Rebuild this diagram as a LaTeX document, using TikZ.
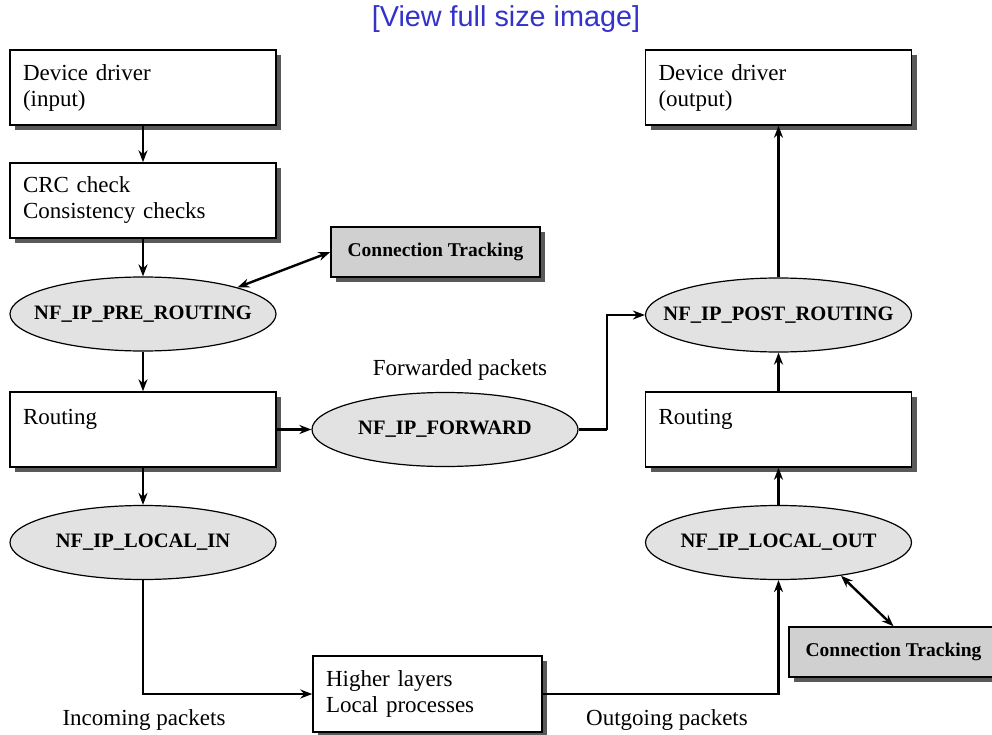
\documentclass[tikz,border=0pt]{standalone}
\usepackage{fontspec}
\setmainfont{Liberation Serif}
\newfontfamily\headfont{Liberation Sans}
\usetikzlibrary{shapes.geometric,shadows,arrows.meta}

\definecolor{linkblue}{RGB}{51,51,204}
\definecolor{hookgray}{RGB}{226,226,226}
\definecolor{trackgray}{RGB}{208,208,208}

\tikzset{
  stage/.style={draw, line width=1.5pt, fill=white, minimum width=266pt, minimum height=75pt,
    text width=240pt, align=left, font=\fontsize{23}{26}\selectfont,
    drop shadow={shadow xshift=5pt, shadow yshift=-5pt, fill=black!65, opacity=1}},
  hook/.style={draw, ellipse, line width=1.2pt, fill=hookgray, minimum width=266pt, minimum height=74pt,
    inner xsep=-40pt, inner ysep=0pt, font=\fontsize{20.5}{22}\selectfont\bfseries},
  tracker/.style={draw, line width=1.5pt, fill=trackgray, minimum width=209pt, minimum height=50pt,
    font=\fontsize{19.5}{22}\selectfont\bfseries,
    drop shadow={shadow xshift=5pt, shadow yshift=-5pt, fill=black!65, opacity=1}},
  caption/.style={font=\fontsize{23}{26}\selectfont},
  flow/.style={line width=2.4pt, -{Stealth[length=12pt,width=9pt]}},
  both/.style={line width=2.4pt, {Stealth[length=12pt,width=9pt]}-{Stealth[length=12pt,width=9pt]}}
}

\begin{document}
\begin{tikzpicture}[x=1pt,y=-1pt]
    \useasboundingbox (0,0) rectangle (992,735);
    \fill[white] (0,0) rectangle (992,735);

    \node[font=\headfont\fontsize{28.8}{30}\selectfont, text=linkblue] (view) at (506,19) {[View full size image]};

    % incoming side
    \node[stage] (drvin) at (143,87.5) {Device driver\\(input)};
    \node[stage] (crc) at (143,200.5) {CRC check\\Consistency checks};
    \node[hook] (pre) at (143,314) {NF\_IP\_PRE\_ROUTING};
    \node[stage] (rtin) at (143,429.5) {Routing\\\mbox{}};
    \node[hook] (locin) at (143,542.5) {NF\_IP\_LOCAL\_IN};

    % forwarding
    \node[hook] (fwd) at (445,429.5) {NF\_IP\_FORWARD};
    \node[caption] (fwdtxt) at (460,370) {Forwarded packets};
    \node[tracker] (track1) at (435.5,252) {Connection Tracking};

    % outgoing side
    \node[stage] (drvout) at (778.5,87.5) {Device driver\\(output)};
    \node[hook] (post) at (778.5,315) {NF\_IP\_POST\_ROUTING};
    \node[stage] (rtout) at (778.5,429.5) {Routing\\\mbox{}};
    \node[hook] (locout) at (778.5,542.5) {NF\_IP\_LOCAL\_OUT};
    \node[tracker] (track2) at (893.5,652) {Connection Tracking};

    % local processes
    \node[stage, minimum width=229pt, text width=203pt, minimum height=76pt] (upper) at (427.5,694) {Higher layers\\Local processes};
    \node[caption] (intxt) at (144,720) {Incoming packets};
    \node[caption] (outtxt) at (667,720) {Outgoing packets};

    \coordinate (fwdturn) at (607,429.5);

    \draw[flow] (drvin) -- (crc);
    \draw[flow] (crc) -- (pre);
    \draw[flow] (pre) -- (rtin);
    \draw[flow] (rtin) -- (locin);
    \draw[flow] (rtin) -- (fwd);
    \draw[line width=2.4pt] (fwd) -- (fwdturn);
    \draw[flow] (fwdturn) |- (post);
    \draw[flow] (locin) |- (upper);
    \draw[flow] (upper) -| (locout);
    \draw[flow] (locout) -- (rtout);
    \draw[flow] (rtout) -- (post);
    \draw[flow] (post) -- (drvout);
    \draw[both] (pre.north east) -- (track1.west);
    \draw[both] (locout.-28) -- (track2.north);
\end{tikzpicture}
\end{document}
